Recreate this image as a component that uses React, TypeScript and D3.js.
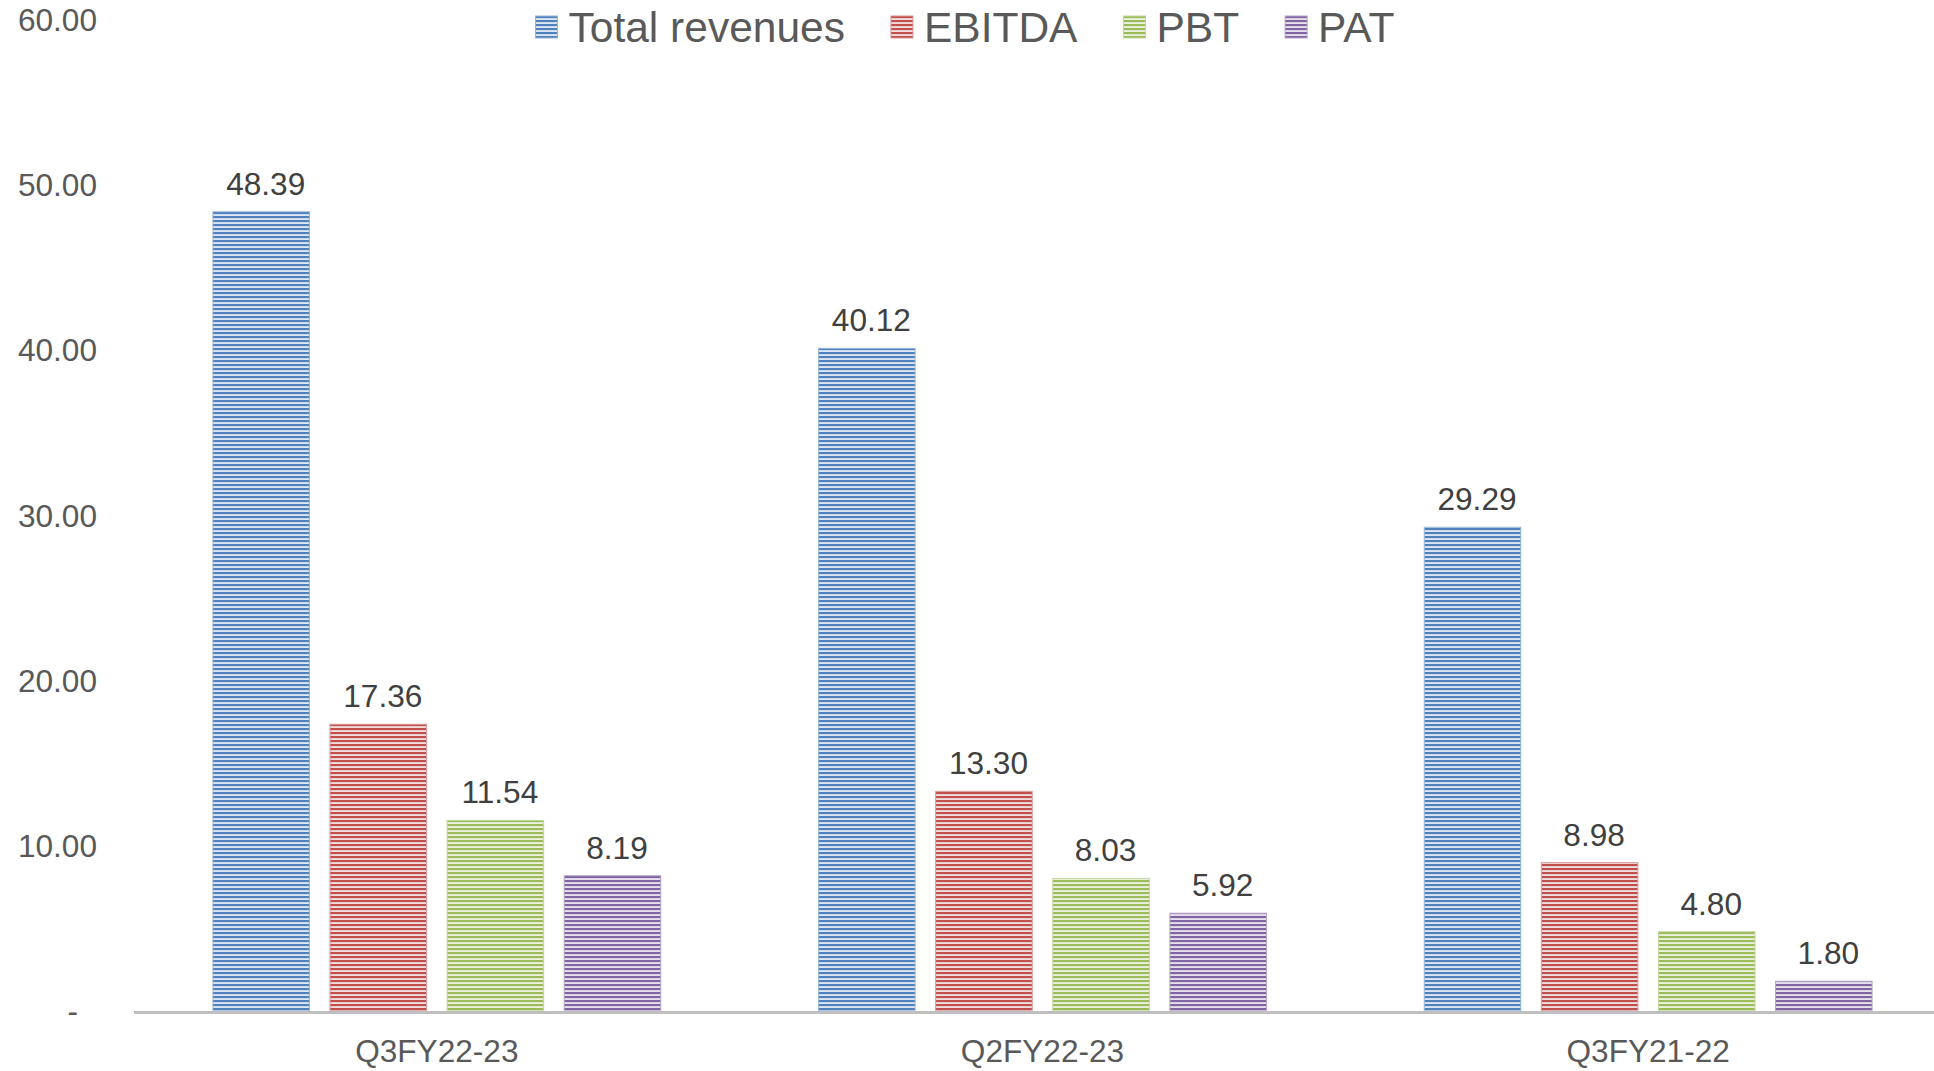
import React, { useEffect, useRef } from "react";
import * as d3 from "d3";

const categories = ["Q3FY22-23", "Q2FY22-23", "Q3FY21-22"];
const seriesNames = ["Total revenues", "EBITDA", "PBT", "PAT"];
const totalRevenues = [48.39, 40.12, 29.29];
const ebitda = [17.36, 13.3, 8.98];
const pbt = [11.54, 8.03, 4.8];
const pat = [8.19, 5.92, 1.8];
const yTicks = [0, 10, 20, 30, 40, 50, 60];

const App = () => {
  const svgRef = useRef<SVGSVGElement>(null);

  useEffect(() => {
    document.body.style.margin = "0";

    const width = 1934;
    const height = 1071;
    const font = "'Liberation Sans', Arial, Helvetica, sans-serif";

    // dark stripe colour, light background colour, edge colour
    const colors = [
      { dark: "#4F81BD", light: "#DCE6F2", edge: "#95B3D7" },
      { dark: "#C0504D", light: "#F2DCDB", edge: "#D99694" },
      { dark: "#9BBB59", light: "#EBF1DE", edge: "#C3D69B" },
      { dark: "#8064A2", light: "#E6E0EC", edge: "#B3A2C7" },
    ];

    const values = [totalRevenues, ebitda, pbt, pat];
    const rows = categories.map((c, i) => ({
      category: c,
      items: seriesNames.map((s, j) => ({ series: s, idx: j, value: values[j][i] })),
    }));

    const x0 = d3.scaleBand().domain(categories).range([134, 1951]).padding(0);
    const x1 = d3
      .scaleBand()
      .domain(seriesNames)
      .range([0, x0.bandwidth()])
      .paddingInner(0.176)
      .paddingOuter(0.674);
    const y = d3.scaleLinear().domain([0, 60]).range([1011, 20]);

    const svg = d3
      .select(svgRef.current)
      .attr("width", width)
      .attr("height", height)
      .attr("viewBox", `0 0 ${width} ${height}`)
      .style("display", "block")
      .style("background", "#fff");

    svg.selectAll("*").remove();

    // striped fills
    const defs = svg.append("defs");
    colors.forEach((c, i) => {
      const p = defs
        .append("pattern")
        .attr("id", `stripe${i}`)
        .attr("patternUnits", "userSpaceOnUse")
        .attr("width", 8)
        .attr("height", 4);
      p.append("rect").attr("width", 8).attr("height", 4).attr("fill", c.light);
      p.append("rect").attr("y", 0).attr("width", 8).attr("height", 2.1).attr("fill", c.dark);
    });

    // y labels
    svg
      .append("g")
      .selectAll("text")
      .data(yTicks)
      .join("text")
      .attr("x", (d) => (d === 0 ? 78 : 97))
      .attr("y", (d) => y(d))
      .attr("dy", "0.35em")
      .attr("text-anchor", "end")
      .attr("font-family", font)
      .attr("font-size", 31.6)
      .attr("fill", "#595959")
      .text((d) => (d === 0 ? "-" : d3.format(".2f")(d)));

    // bars
    const groups = svg
      .append("g")
      .selectAll("g")
      .data(rows)
      .join("g")
      .attr("transform", (d) => `translate(${x0(d.category)},0)`);

    groups
      .selectAll("rect")
      .data((d) => d.items)
      .join("rect")
      .attr("x", (d) => x1(d.series)!)
      .attr("y", (d) => y(d.value))
      .attr("width", x1.bandwidth())
      .attr("height", (d) => y(0) - y(d.value))
      .attr("fill", (d) => `url(#stripe${d.idx})`)
      .attr("stroke", (d) => colors[d.idx].edge)
      .attr("stroke-width", 1);

    groups
      .selectAll("text")
      .data((d) => d.items)
      .join("text")
      .attr("x", (d) => x1(d.series)! + x1.bandwidth() / 2 + 4.5)
      .attr("y", (d) => y(d.value) - 17)
      .attr("text-anchor", "middle")
      .attr("font-family", font)
      .attr("font-size", 31.6)
      .attr("fill", "#404040")
      .text((d) => d3.format(".2f")(d.value));

    // x axis line
    svg
      .append("line")
      .attr("x1", 134)
      .attr("x2", width)
      .attr("y1", y(0) + 1.5)
      .attr("y2", y(0) + 1.5)
      .attr("stroke", "#BFBFBF")
      .attr("stroke-width", 3);

    // category labels
    svg
      .append("g")
      .selectAll("text")
      .data(categories)
      .join("text")
      .attr("x", (d) => x0(d)! + x0.bandwidth() / 2)
      .attr("y", 1061.5)
      .attr("text-anchor", "middle")
      .attr("font-family", font)
      .attr("font-size", 31.6)
      .attr("fill", "#595959")
      .text((d) => d);

    // legend, centered
    const legend = svg.append("g");
    const items = legend
      .selectAll("g")
      .data(seriesNames)
      .join("g");
    items
      .append("rect")
      .attr("y", 16)
      .attr("width", 22)
      .attr("height", 22)
      .attr("fill", (d, i) => `url(#stripe${i})`)
      .attr("stroke", (d, i) => colors[i].edge)
      .attr("stroke-width", 1);
    items
      .append("text")
      .attr("x", 33)
      .attr("y", 41.7)
      .attr("font-family", font)
      .attr("font-size", 42.5)
      .attr("fill", "#595959")
      .text((d) => d);

    let offset = 0;
    const positions: number[] = [];
    items.each(function () {
      const t = d3.select(this).select("text").node() as SVGTextElement;
      positions.push(offset);
      offset += 33 + t.getComputedTextLength() + 46;
    });
    const total = offset - 46;
    const start = 965 - total / 2;
    items.attr("transform", (d, i) => `translate(${start + positions[i]},0)`);
  }, []);

  return <svg ref={svgRef}></svg>;
};

export default App;
